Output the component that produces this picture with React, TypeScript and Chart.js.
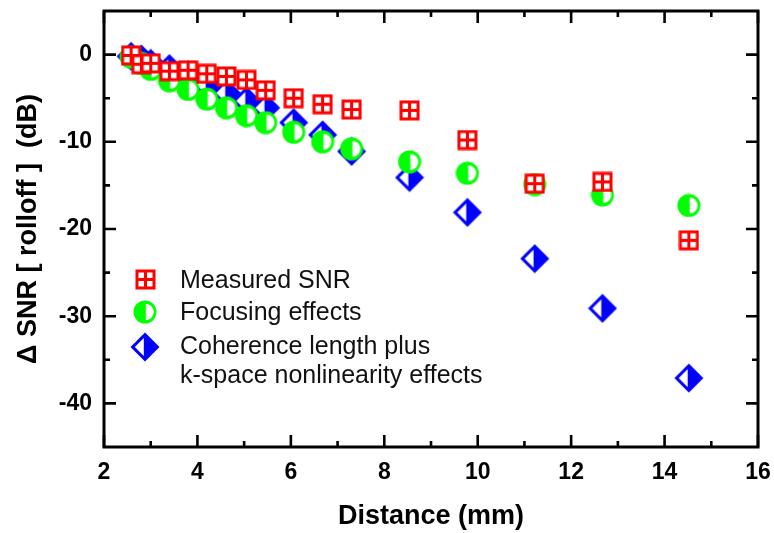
import React, { useEffect, useRef } from 'react';
import { Chart, registerables } from 'chart.js';

Chart.register(...registerables);

// ---- data ----
const distance = [2.58, 2.8, 3.0, 3.4, 3.8, 4.2, 4.62, 5.05, 5.46, 6.06, 6.68, 7.3, 8.54, 9.78, 11.22, 12.67, 14.52];
const measuredSNR = [-0.1, -1.1, -1.0, -1.9, -1.8, -2.2, -2.5, -2.9, -4.1, -5.0, -5.7, -6.3, -6.4, -9.8, -14.8, -14.6, -21.3];
const focusingEffects = [-0.3, -1.0, -1.7, -3.0, -4.0, -5.1, -6.1, -7.0, -7.8, -8.9, -10.0, -10.8, -12.3, -13.6, -14.9, -16.1, -17.3];
const coherenceEffects = [-0.2, -0.5, -1.0, -1.6, -2.3, -3.5, -4.4, -5.3, -6.1, -7.8, -9.2, -11.1, -14.1, -18.1, -23.4, -29.1, -37.1];

const xTickLabels = [2, 4, 6, 8, 10, 12, 14, 16];
const xMinorTicks = [3, 5, 7, 9, 11, 13, 15];
const yTickLabels = [0, -10, -20, -30, -40];
const yMinorTicks = [-5, -15, -25, -35];

const seriesNames = ['Measured SNR', 'Focusing effects', 'Coherence length plus', 'k-space nonlinearity effects'];

const RED = '#ff0000';
const GREEN = '#00ff00';
const BLUE = '#0000ff';
const FONT = "'Liberation Sans', Arial, sans-serif";

function makeSquare(): HTMLCanvasElement {
  const c = document.createElement('canvas');
  c.width = 21; c.height = 21;
  const ctx = c.getContext('2d')!;
  ctx.fillStyle = RED;
  ctx.fillRect(0.5, 0.5, 20, 20);
  ctx.fillStyle = '#ffffff';
  ctx.fillRect(3.5, 3.5, 5.5, 5.5);
  ctx.fillRect(12, 3.5, 5.5, 5.5);
  ctx.fillRect(3.5, 12, 5.5, 5.5);
  ctx.fillRect(12, 12, 5.5, 5.5);
  return c;
}

function makeCircle(): HTMLCanvasElement {
  const c = document.createElement('canvas');
  c.width = 24; c.height = 24;
  const ctx = c.getContext('2d')!;
  ctx.fillStyle = GREEN;
  ctx.beginPath();
  ctx.arc(12, 12, 11.5, 0, Math.PI * 2);
  ctx.fill();
  ctx.fillStyle = '#ffffff';
  ctx.beginPath();
  ctx.moveTo(12.8, 12);
  ctx.arc(12.8, 12, 8, -Math.PI / 2, Math.PI / 2);
  ctx.closePath();
  ctx.fill();
  return c;
}

function makeDiamond(): HTMLCanvasElement {
  const c = document.createElement('canvas');
  c.width = 30; c.height = 30;
  const ctx = c.getContext('2d')!;
  const cx = 15, cy = 15, h = 14.5;
  ctx.fillStyle = BLUE;
  ctx.beginPath();
  ctx.moveTo(cx, cy - h);
  ctx.lineTo(cx + h, cy);
  ctx.lineTo(cx, cy + h);
  ctx.lineTo(cx - h, cy);
  ctx.closePath();
  ctx.fill();
  const inner = h - 4.3;
  ctx.fillStyle = '#ffffff';
  ctx.beginPath();
  ctx.moveTo(cx - inner, cy);
  ctx.lineTo(cx - 1.2, cy - inner + 1.2);
  ctx.lineTo(cx - 1.2, cy + inner - 1.2);
  ctx.closePath();
  ctx.fill();
  return c;
}

function zeroPad(s: any) {
  s.paddingTop = 0;
  s.paddingBottom = 0;
  s.paddingLeft = 0;
  s.paddingRight = 0;
}

export default function App() {
  const ref = useRef<HTMLCanvasElement | null>(null);

  useEffect(() => {
    if (!ref.current) return;
    const square = makeSquare();
    const circle = makeCircle();
    const diamond = makeDiamond();

    const framePlugin = {
      id: 'frameTicks',
      beforeDatasetsDraw(chart: any) {
        const { ctx, chartArea: a, scales } = chart;
        const xs = scales.x, ys = scales.y;
        ctx.save();
        ctx.strokeStyle = '#000';
        ctx.lineWidth = 2.6;
        ctx.lineCap = 'butt';
        const major = 12, minor = 6;
        ctx.beginPath();
        xTickLabels.forEach((v) => {
          const px = xs.getPixelForValue(v);
          ctx.moveTo(px, a.bottom); ctx.lineTo(px, a.bottom - major);
          ctx.moveTo(px, a.top); ctx.lineTo(px, a.top + major);
        });
        xMinorTicks.forEach((v) => {
          const px = xs.getPixelForValue(v);
          ctx.moveTo(px, a.bottom); ctx.lineTo(px, a.bottom - minor);
          ctx.moveTo(px, a.top); ctx.lineTo(px, a.top + minor);
        });
        yTickLabels.forEach((v) => {
          const py = ys.getPixelForValue(v);
          ctx.moveTo(a.left, py); ctx.lineTo(a.left + major, py);
          ctx.moveTo(a.right, py); ctx.lineTo(a.right - major, py);
        });
        yMinorTicks.forEach((v) => {
          const py = ys.getPixelForValue(v);
          ctx.moveTo(a.left, py); ctx.lineTo(a.left + minor, py);
          ctx.moveTo(a.right, py); ctx.lineTo(a.right - minor, py);
        });
        ctx.stroke();
        ctx.lineWidth = 3;
        ctx.strokeRect(a.left, a.top, a.right - a.left, a.bottom - a.top);
        ctx.restore();
      },
    };

    const legendPlugin = {
      id: 'customLegend',
      afterDraw(chart: any) {
        const { ctx, chartArea: a } = chart;
        const mx = a.left + 41;
        const tx = a.left + 76;
        ctx.save();
        const icons = [square, circle, diamond];
        const iconY = [279, 312, 347];
        icons.forEach((img, i) => {
          ctx.drawImage(img, Math.round(mx - img.width / 2), Math.round(iconY[i] - img.height / 2));
        });
        ctx.fillStyle = '#111';
        ctx.font = `25px ${FONT}`;
        ctx.textBaseline = 'alphabetic';
        const baselines = [288, 320, 354, 383];
        seriesNames.forEach((t, i) => ctx.fillText(t, tx, baselines[i]));
        ctx.restore();
      },
    };

    const mk = (ys: number[]) => distance.map((x, i) => ({ x, y: ys[i] }));

    const chart = new Chart(ref.current, {
      type: 'scatter',
      data: {
        datasets: [
          { label: seriesNames[0], data: mk(measuredSNR), pointStyle: square as any, backgroundColor: RED, borderColor: RED },
          { label: seriesNames[1], data: mk(focusingEffects), pointStyle: circle as any, backgroundColor: GREEN, borderColor: GREEN },
          { label: seriesNames[2], data: mk(coherenceEffects), pointStyle: diamond as any, backgroundColor: BLUE, borderColor: BLUE },
        ],
      },
      options: {
        animation: false,
        responsive: true,
        maintainAspectRatio: false,
        events: [],
        layout: { padding: { top: 11, right: 16, left: 0, bottom: 0 } },
        plugins: { legend: { display: false }, tooltip: { enabled: false } },
        scales: {
          x: {
            type: 'linear',
            min: 2,
            max: 16,
            afterBuildTicks: (s: any) => { s.ticks = xTickLabels.map((v) => ({ value: v })); },
            afterFit: (s: any) => { s.height = 86; zeroPad(s); },
            grid: { display: false, drawTicks: false },
            border: { display: false },
            ticks: { color: '#000', font: { family: FONT, size: 23, weight: 'bold' }, padding: 12, maxRotation: 0 },
            title: { display: true, text: 'Distance (mm)', color: '#000', font: { family: FONT, size: 27, weight: 'bold' }, padding: { top: 11, bottom: 0 } },
          },
          y: {
            type: 'linear',
            min: -45,
            max: 5,
            afterBuildTicks: (s: any) => { s.ticks = yTickLabels.map((v) => ({ value: v })); },
            afterFit: (s: any) => { s.width = 104; zeroPad(s); },
            grid: { display: false, drawTicks: false },
            border: { display: false },
            ticks: { color: '#000', font: { family: FONT, size: 23, weight: 'bold' }, padding: 12 },
            title: { display: true, text: '\u0394 SNR [ rolloff ]  (dB)', color: '#000', font: { family: FONT, size: 27, weight: 'bold' }, padding: { top: 12, bottom: 0 } },
          },
        },
      },
      plugins: [framePlugin, legendPlugin],
    } as any);

    return () => chart.destroy();
  }, []);

  return (
    <div style={{ position: 'fixed', left: 0, top: 0, width: 774, height: 533, background: '#fff' }}>
      <canvas ref={ref} />
    </div>
  );
}
